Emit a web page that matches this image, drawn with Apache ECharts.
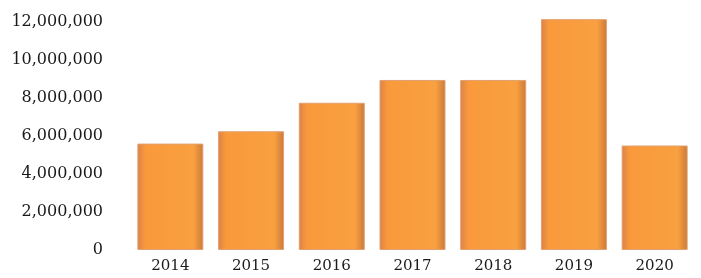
<!DOCTYPE html>
<html>
<head>
<meta charset="utf-8">
<script src="https://cdn.jsdelivr.net/npm/echarts@6/dist/echarts.min.js"></script>
<style>
  html, body { margin: 0; padding: 0; background: #fff; }
</style>
</head>
<body>
<div id="main" style="width:701px;height:278px;"></div>
<script>
var years = ["2014", "2015", "2016", "2017", "2018", "2019", "2020"];
var values = [5600000, 6250000, 7750000, 8950000, 8950000, 12150000, 5500000];
var yTicks = [0, 2000000, 4000000, 6000000, 8000000, 10000000, 12000000];

var chart = echarts.init(document.getElementById("main"));

chart.setOption({
  animation: false,
  grid: { left: 130, right: 6, top: 22, bottom: 28 },
  xAxis: {
    type: "category",
    data: years,
    axisLine: { show: false },
    axisTick: { show: false },
    axisLabel: {
      margin: 9,
      fontFamily: "DejaVu Serif",
      fontSize: 15,
      color: "#1a1a1a"
    }
  },
  yAxis: {
    type: "value",
    min: yTicks[0],
    max: yTicks[yTicks.length - 1],
    interval: 2000000,
    splitLine: { show: false },
    axisLine: { show: false },
    axisTick: { show: false },
    axisLabel: {
      margin: 27,
      fontFamily: "DejaVu Serif",
      fontSize: 16,
      color: "#1a1a1a",
      formatter: function (v) {
        return v.toLocaleString("en-US");
      }
    }
  },
  series: [
    {
      type: "bar",
      data: values,
      barWidth: 66,
      clip: false,
      itemStyle: {
        color: {
          type: "linear", x: 0, y: 0, x2: 1, y2: 0,
          colorStops: [
            { offset: 0, color: "#d9824a" },
            { offset: 0.12, color: "#f9993c" },
            { offset: 0.85, color: "#f9a040" },
            { offset: 1, color: "#c97a3a" }
          ]
        },
        borderColor: "#e2a070",
        borderWidth: 1
      }
    }
  ]
});
</script>
</body>
</html>
